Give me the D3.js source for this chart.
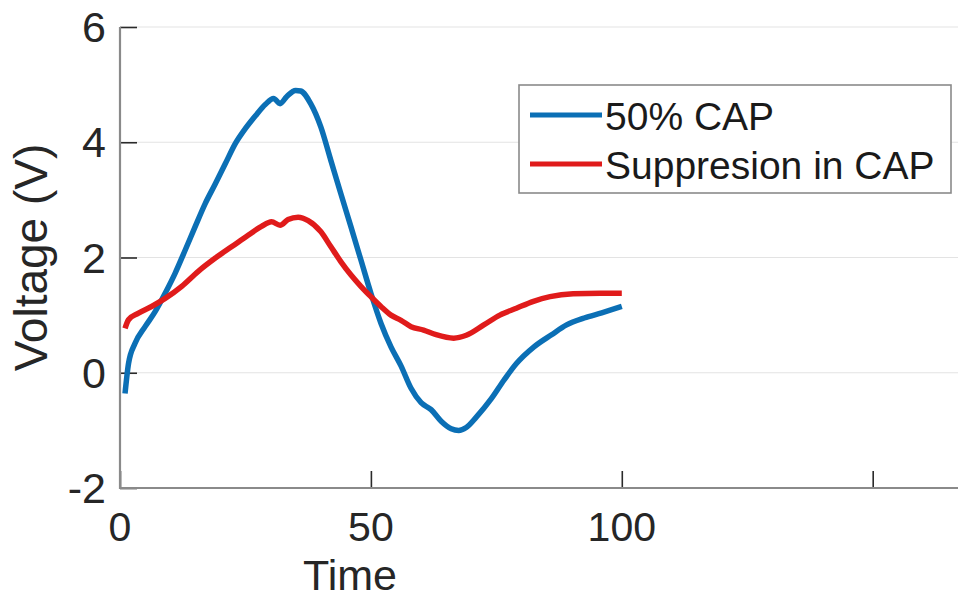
<!DOCTYPE html>
<html>
<head>
<meta charset="utf-8">
<script src="https://cdn.jsdelivr.net/npm/d3@7"></script>
<style>
  html, body { margin: 0; padding: 0; background: #fff; }
  svg { display: block; font-family: "Liberation Sans", Arial, sans-serif; }
</style>
</head>
<body>
<svg id="chart" width="958" height="600"></svg>
<script>
// Series: 50% CAP
const capTime = [1, 1.7, 3, 5, 7, 9, 11, 13, 15, 17, 19, 21, 23, 25, 27, 29, 30.6, 31.9, 33.2, 35, 36,
  38, 40, 42, 44, 46, 48, 50, 52, 54, 56, 58, 60, 62, 64, 66, 67.5, 69, 71, 74, 76.5, 79, 82.5, 86, 89, 92.5, 96, 100];
const capVoltage = [-0.36, 0.16, 0.51, 0.8, 1.06, 1.38, 1.73, 2.13, 2.54, 2.94, 3.28, 3.63, 3.98, 4.24, 4.46, 4.66, 4.76, 4.67, 4.79, 4.9, 4.89,
  4.67, 4.27, 3.69, 3.11, 2.54, 1.96, 1.38, 0.86, 0.45, 0.12, -0.27, -0.52, -0.64, -0.84, -0.97, -1.0, -0.95, -0.77, -0.45, -0.13, 0.16, 0.45, 0.66, 0.83, 0.95, 1.04, 1.15];

// Series: Suppresion in CAP
const suppTime = [1, 1.7, 3.6, 6.3, 9, 12.3, 15.6, 19, 22.3, 25.6, 28.2, 30.2, 31.9, 33.5, 35.5, 37.5,
  40, 42, 44, 46, 48, 50, 52, 54, 56, 58, 60.5, 63, 66.5, 69, 72.5, 75.7, 79, 82.4, 85.7, 90.3, 95.7, 100];
const suppVoltage = [0.77, 0.92, 1.03, 1.15, 1.29, 1.5, 1.76, 1.99, 2.19, 2.39, 2.54, 2.62, 2.56, 2.66, 2.7, 2.64,
  2.45, 2.19, 1.93, 1.7, 1.5, 1.32, 1.15, 1.0, 0.91, 0.8, 0.74, 0.66, 0.6, 0.65, 0.83, 1.0, 1.12, 1.24, 1.32, 1.37, 1.38, 1.38];

const seriesNames = ["50% CAP", "Suppresion in CAP"];
const seriesColors = ["#0b6fb5", "#e01b1b"];

const xTicks = [0, 50, 100, 150];
const xTickLabels = ["0", "50", "100", ""];
const yTicks = [-2, 0, 2, 4, 6];
const yTickLabels = ["-2", "0", "2", "4", "6"];

const xLabel = "Time";
const yLabel = "Voltage (V)";

// Plot frame
const svg = d3.select("#chart");
const plotLeft = 120, plotRight = 958, plotTop = 27, plotBottom = 488;

const x = d3.scaleLinear().domain([0, 167]).range([plotLeft, plotRight]);
const y = d3.scaleLinear().domain([-2, 6]).range([plotBottom, plotTop]);

// Horizontal grid lines
svg.append("g")
  .selectAll("line")
  .data(yTicks.filter(d => d !== -2))
  .join("line")
  .attr("x1", plotLeft).attr("x2", plotRight)
  .attr("y1", d => y(d)).attr("y2", d => y(d))
  .attr("stroke", "#e3e3e3").attr("stroke-width", 1.2);

// Y axis (ticks pointing inward)
const yAxis = svg.append("g")
  .attr("transform", `translate(${plotLeft},0)`)
  .call(d3.axisRight(y).tickValues(yTicks).tickSize(17).tickFormat(""));
yAxis.select(".domain").remove();
yAxis.selectAll(".tick line").attr("stroke", "#2a2a2a").attr("stroke-width", 1.6);

// X axis (ticks pointing inward)
const xAxis = svg.append("g")
  .attr("transform", `translate(0,${plotBottom})`)
  .call(d3.axisTop(x).tickValues(xTicks).tickSize(17).tickFormat(""));
xAxis.select(".domain").remove();
xAxis.selectAll(".tick line").attr("stroke", "#2a2a2a").attr("stroke-width", 1.6);

// Axis lines
svg.append("line").attr("x1", plotLeft).attr("x2", plotLeft).attr("y1", plotTop).attr("y2", plotBottom + 1)
  .attr("stroke", "#8a8a8a").attr("stroke-width", 2.2);
svg.append("line").attr("x1", plotLeft - 1).attr("x2", plotRight).attr("y1", plotBottom).attr("y2", plotBottom)
  .attr("stroke", "#8a8a8a").attr("stroke-width", 2.2);

// Tick labels
svg.append("g").selectAll("text")
  .data(yTicks)
  .join("text")
  .attr("x", 106)
  .attr("y", d => y(d) + 15)
  .attr("text-anchor", "end")
  .attr("font-size", 43)
  .attr("fill", "#262626")
  .text((d, i) => yTickLabels[i]);

svg.append("g").selectAll("text")
  .data(xTicks)
  .join("text")
  .attr("x", d => x(d))
  .attr("y", 541)
  .attr("text-anchor", "middle")
  .attr("font-size", 41)
  .attr("fill", "#262626")
  .text((d, i) => xTickLabels[i]);

// Axis titles
svg.append("text")
  .attr("x", 350).attr("y", 590)
  .attr("text-anchor", "middle")
  .attr("font-size", 43)
  .attr("fill", "#262626")
  .text(xLabel);

svg.append("text")
  .attr("transform", `translate(47,${(plotTop + plotBottom) / 2}) rotate(-90)`)
  .attr("text-anchor", "middle")
  .attr("font-size", 46)
  .attr("fill", "#262626")
  .text(yLabel);

// Lines
const line = d3.line()
  .x(d => x(d[0]))
  .y(d => y(d[1]))
  .curve(d3.curveMonotoneX);

const series = [
  d3.zip(capTime, capVoltage),
  d3.zip(suppTime, suppVoltage)
];

svg.append("g").selectAll("path")
  .data(series)
  .join("path")
  .attr("d", line)
  .attr("fill", "none")
  .attr("stroke", (d, i) => seriesColors[i])
  .attr("stroke-width", 5.5)
  .attr("stroke-linejoin", "round");

// Legend
const legend = svg.append("g");
legend.append("rect")
  .attr("x", 519).attr("y", 85)
  .attr("width", 432).attr("height", 108)
  .attr("fill", "#fff")
  .attr("stroke", "#8a8a8a").attr("stroke-width", 1.6);

const rows = legend.selectAll("g.row")
  .data(seriesNames)
  .join("g")
  .attr("class", "row")
  .attr("transform", (d, i) => `translate(0,${115 + i * 49})`);

rows.append("line")
  .attr("x1", 530).attr("x2", 602)
  .attr("y1", 0).attr("y2", 0)
  .attr("stroke", (d, i) => seriesColors[i])
  .attr("stroke-width", 5);

rows.append("text")
  .attr("x", 605).attr("y", 15)
  .attr("font-size", 39)
  .attr("fill", "#1a1a1a")
  .text(d => d);
</script>
</body>
</html>
